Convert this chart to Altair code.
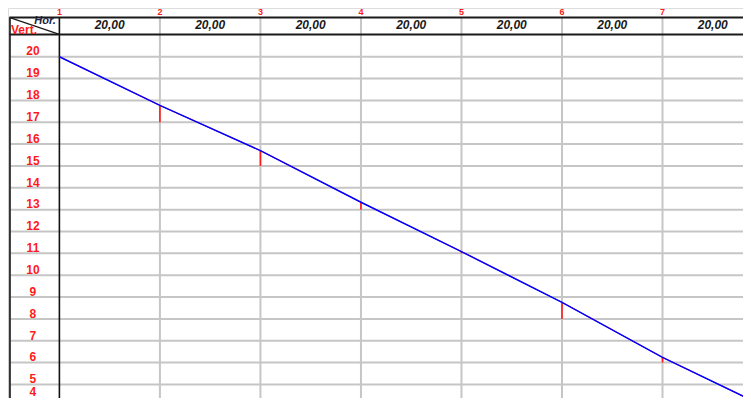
import altair as alt
import pandas as pd

# ---- data ----
stations = [1, 2, 3, 4, 5, 6, 7]
station_labels = ["1", "2", "3", "4", "5", "6", "7"]
segment_labels = ["20,00", "20,00", "20,00", "20,00", "20,00", "20,00", "20,00"]
vert_levels = [20, 19, 18, 17, 16, 15, 14, 13, 12, 11, 10, 9, 8, 7, 6, 5, 4]
profile_station = [1, 2, 3, 4, 5, 6, 7, 7.88]
profile_level = [20.0, 17.77, 15.7, 13.34, 11.08, 8.76, 6.24, 4.29]
tick_station = [2, 3, 4, 5, 6, 7]
tick_top = [17.77, 15.7, 13.34, 11.08, 8.76, 6.24]
tick_bottom = [17, 15, 13, 11, 8, 6]

# ---- layout (scale domains chosen so the grid lands where the reference has it) ----
W, H = 735, 390
X0, X1 = 0.4887, 7.8007
Y0, Y1 = 4.380, 22.229
LEFT = 0.5076
HEAD_TOP = 21.79
HEAD_BOT = 21.02
FONT = "Liberation Sans"
RED = "#ff1a1a"

xs = alt.Scale(domain=[X0, X1], nice=False, zero=False)
ys = alt.Scale(domain=[Y0, Y1], nice=False, zero=False)


def X(f):
    return alt.X(f, type="quantitative", scale=xs, axis=None)


def Y(f):
    return alt.Y(f, type="quantitative", scale=ys, axis=None)


# horizontal grid lines
hgrid_df = pd.DataFrame({"lvl": vert_levels, "x0": LEFT, "x1": X1})
hgrid = alt.Chart(hgrid_df).mark_rule(color="#c6c6c6", strokeWidth=2).encode(
    x=X("x0"), x2="x1", y=Y("lvl"))

# vertical grid lines (stations 2..7 gray, station 1 black)
vgrid_df = pd.DataFrame({"st": stations[1:], "y0": HEAD_TOP, "y1": Y0})
vgrid = alt.Chart(vgrid_df).mark_rule(color="#c6c6c6", strokeWidth=2).encode(
    x=X("st"), y=Y("y0"), y2="y1")
v1_df = pd.DataFrame({"st": [stations[0]], "y0": [HEAD_TOP], "y1": [Y0]})
v1 = alt.Chart(v1_df).mark_rule(color="#111111", strokeWidth=1.6).encode(
    x=X("st"), y=Y("y0"), y2="y1")

# left border
lb_df = pd.DataFrame({"x": [LEFT], "y0": [HEAD_TOP], "y1": [Y0]})
lborder = alt.Chart(lb_df).mark_rule(color="#333333", strokeWidth=2).encode(
    x=X("x"), y=Y("y0"), y2="y1")

# header lines
hl_df = pd.DataFrame({"y": [HEAD_TOP, HEAD_BOT], "x0": LEFT - 0.005, "x1": X1})
hlines = alt.Chart(hl_df).mark_rule(color="#1a1a1a", strokeWidth=2).encode(
    x=X("x0"), x2="x1", y=Y("y"))

# diagonal in the corner cell
diag_df = pd.DataFrame({"x": [LEFT, stations[0]], "y": [HEAD_TOP, HEAD_BOT]})
diag = alt.Chart(diag_df).mark_line(color="#1a1a1a", strokeWidth=1.2).encode(
    x=X("x"), y=Y("y"))

# corner texts
hor_df = pd.DataFrame({"x": [0.857], "y": [21.64], "t": ["Hor."]})
hor = alt.Chart(hor_df).mark_text(font=FONT, fontSize=11, fontStyle="italic",
                                  fontWeight="bold", color="#1c2340",
                                  align="center", baseline="middle").encode(
    x=X("x"), y=Y("y"), text="t:N")
vert_df = pd.DataFrame({"x": [0.648], "y": [21.2], "t": ["Vert."]})
vert = alt.Chart(vert_df).mark_text(font=FONT, fontSize=12, fontWeight="bold",
                                    color=RED, align="center",
                                    baseline="middle").encode(
    x=X("x"), y=Y("y"), text="t:N")

# station numbers on top
st_df = pd.DataFrame({"st": stations, "t": station_labels, "y": 22.21})
st_text = alt.Chart(st_df).mark_text(font=FONT, fontSize=9, fontWeight="bold",
                                     color=RED, align="center",
                                     baseline="top").encode(
    x=X("st"), y=Y("y"), text="t:N")

# segment lengths in the header
seg_df = pd.DataFrame({"x": [s + 0.5 for s in stations], "t": segment_labels,
                       "y": 21.45})
seg_text = alt.Chart(seg_df).mark_text(font=FONT, fontSize=12, fontStyle="italic",
                                       fontWeight="bold", color="#1a1a1a",
                                       align="center", baseline="middle").encode(
    x=X("x"), y=Y("y"), text="t:N")

# vertical level labels
lv_df = pd.DataFrame({"lvl": vert_levels, "t": [str(v) for v in vert_levels]})
lv_df["y"] = (lv_df["lvl"] + 0.24).clip(lower=4.66)
lv_df["x"] = 0.737
lv_text = alt.Chart(lv_df).mark_text(font=FONT, fontSize=12, fontWeight="bold",
                                     color=RED, align="center",
                                     baseline="middle").encode(
    x=X("x"), y=Y("y"), text="t:N")

# red ticks at stations
tk_df = pd.DataFrame({"st": tick_station, "top": tick_top, "bot": tick_bottom})
ticks = alt.Chart(tk_df).mark_rule(color=RED, strokeWidth=1.6).encode(
    x=X("st"), y=Y("top"), y2="bot")

# profile lines
pr_df = pd.DataFrame({"st": profile_station, "lvl": profile_level})
red_line = alt.Chart(pr_df).mark_line(color=RED, strokeWidth=1.0).encode(
    x=X("st"), y=Y("lvl"))
blue_line = alt.Chart(pr_df).mark_line(color="#0000ff", strokeWidth=1.5).encode(
    x=X("st"), y=Y("lvl"))

chart = alt.layer(
    hgrid, vgrid, lborder, v1, hlines, diag, hor, vert, st_text, seg_text,
    lv_text, red_line, ticks, blue_line
).properties(
    width=W, height=H,
    autosize=alt.AutoSizeParams(type="none"),
    padding=0,
).configure_view(stroke=None).configure(background="white")

chart.save("out.html", embed_options={"renderer": "svg", "actions": False})
